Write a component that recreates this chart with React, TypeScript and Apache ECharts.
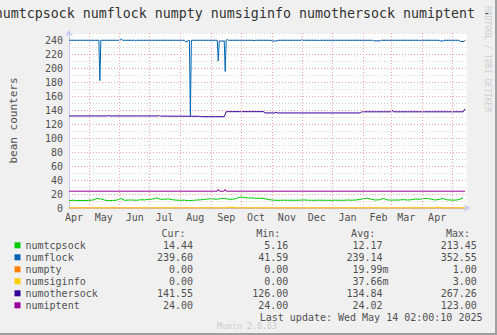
import React, { useEffect, useRef } from 'react';
import * as echarts from 'echarts';

const titleText = 'numtcpsock numflock numpty numsiginfo numothersock numiptent - by year';
const seriesNames = ['numtcpsock', 'numflock', 'numpty', 'numsiginfo', 'numothersock', 'numiptent'];
const seriesColors = ['#00CC00', '#0066B3', '#FF8000', '#FFCC00', '#330099', '#990099'];

const xStart = '2024-04-11';
const xEnd = '2025-05-16';
const monthStarts = [
  '2024-05-01', '2024-06-01', '2024-07-01', '2024-08-01', '2024-09-01', '2024-10-01', '2024-11-01',
  '2024-12-01', '2025-01-01', '2025-02-01', '2025-03-01', '2025-04-01', '2025-05-01',
];
const monthLabelDates = [
  '2024-04-16', '2024-05-16', '2024-06-16', '2024-07-16', '2024-08-16', '2024-09-16', '2024-10-16',
  '2024-11-16', '2024-12-16', '2025-01-16', '2025-02-16', '2025-03-16', '2025-04-16',
];
const monthLabels = ['Apr', 'May', 'Jun', 'Jul', 'Aug', 'Sep', 'Oct', 'Nov', 'Dec', 'Jan', 'Feb', 'Mar', 'Apr'];

const yMin = 0;
const yMax = 250;
const yStep = 10;
const yLabelStep = 20;
const yName = 'bean counters';

// numtcpsock sampled every 4 days starting at tcpStart
const tcpStart = '2024-04-11';
const tcpStepDays = 4;
const numtcpsock = [
  10.5, 11.2, 10.5, 10.8, 10.6, 11.0, 11.4, 13.5, 13.0, 11.2,
  10.5, 10.8, 11.2, 13.6, 11.0, 11.4, 11.4, 11.0, 11.8, 11.6,
  12.4, 12.6, 14.4, 12.4, 12.6, 12.9, 11.9, 11.2, 11.0, 11.2,
  10.5, 10.8, 11.4, 11.6, 12.4, 12.9, 13.2, 12.4, 13.3, 13.8,
  12.6, 12.4, 13.5, 15.6, 15.2, 14.3, 14.4, 13.9, 14.0, 13.6,
  12.2, 11.4, 11.0, 11.0, 11.2, 11.0, 11.1, 11.0, 11.2, 11.5,
  11.2, 11.0, 11.0, 11.2, 11.0, 11.0, 11.0, 11.2, 11.0, 11.0,
  11.4, 11.2, 11.4, 12.2, 13.2, 14.0, 12.4, 11.4, 11.8, 13.6,
  11.6, 11.2, 11.4, 11.4, 12.0, 11.4, 11.8, 12.8, 12.4, 13.4,
  13.8, 12.6, 11.4, 12.4, 13.5, 11.6, 11.4, 11.2, 12.0, 14.4,
];

const numflock: [string, number][] = [
  ['2024-04-11', 239.6], ['2024-05-11', 239.6], ['2024-05-12', 182], ['2024-05-13', 239.6],
  ['2024-05-31', 239.6], ['2024-06-02', 241.5], ['2024-06-04', 239.6], ['2024-06-16', 239.6],
  ['2024-06-17', 238.8], ['2024-06-18', 239.6], ['2024-08-05', 239.6], ['2024-08-06', 237.6],
  ['2024-08-08', 237.6], ['2024-08-09', 239.6], ['2024-08-10', 239.6], ['2024-08-11', 132],
  ['2024-08-12', 239.6], ['2024-09-07', 239.6], ['2024-09-08', 210], ['2024-09-09', 238.5],
  ['2024-09-13', 238.5], ['2024-09-14', 239], ['2024-09-15', 195], ['2024-09-16', 239.6],
  ['2024-09-17', 241], ['2024-09-18', 239.6], ['2024-10-13', 239.6], ['2024-10-14', 238.8],
  ['2024-10-15', 239.6], ['2024-10-31', 239.6], ['2024-11-01', 238.6], ['2024-11-06', 238.6],
  ['2024-11-07', 239.6], ['2024-11-30', 239.6], ['2024-12-01', 240.5], ['2024-12-02', 239.6],
  ['2024-12-18', 239.6], ['2024-12-19', 239], ['2024-12-20', 239.6], ['2025-02-10', 239.6],
  ['2025-02-11', 238.8], ['2025-02-18', 238.8], ['2025-02-19', 239.6], ['2025-03-29', 239.6],
  ['2025-03-30', 239], ['2025-03-31', 239.6], ['2025-04-18', 239.6], ['2025-04-19', 238.6],
  ['2025-04-22', 238.6], ['2025-04-23', 239.6], ['2025-05-08', 239.6], ['2025-05-09', 237.8],
  ['2025-05-13', 237.8], ['2025-05-14', 239.6],
];

const numpty: [string, number][] = [
  ['2024-04-11', 0], ['2025-05-14', 0],
];

const numsiginfo: [string, number][] = [
  ['2024-04-11', 0], ['2024-09-16', 0], ['2024-09-17', 1.1], ['2024-09-24', 1.1], ['2024-09-25', 0],
  ['2025-04-14', 0], ['2025-04-15', 1.1], ['2025-04-19', 1.1], ['2025-04-20', 0], ['2025-05-14', 0],
];

const numothersock: [string, number][] = [
  ['2024-04-11', 131.5], ['2024-05-20', 131.5], ['2024-05-21', 132.3], ['2024-05-22', 131.5],
  ['2024-07-10', 131.5], ['2024-07-11', 132.2], ['2024-07-12', 131.3], ['2024-08-20', 131],
  ['2024-08-22', 130.4], ['2024-09-14', 130.4], ['2024-09-16', 137.6], ['2024-10-24', 137.6],
  ['2024-10-25', 135.8], ['2024-11-04', 135.8], ['2024-11-05', 137.2], ['2024-11-06', 135.8],
  ['2025-01-29', 135.8], ['2025-01-30', 137.4], ['2025-03-01', 137.4], ['2025-03-02', 139.4],
  ['2025-03-03', 137.4], ['2025-05-12', 137.4], ['2025-05-14', 141.55],
];

const numiptent: [string, number][] = [
  ['2024-04-11', 24], ['2024-09-07', 24], ['2024-09-08', 26.6], ['2024-09-09', 24],
  ['2024-09-14', 24], ['2024-09-15', 26.6], ['2024-09-16', 24], ['2025-05-14', 24],
];

const statHeaders = ['Cur:', 'Min:', 'Avg:', 'Max:'];
const curValues = ['14.44', '239.60', '0.00', '0.00', '141.55', '24.00'];
const minValues = ['5.16', '41.59', '0.00', '0.00', '126.00', '24.00'];
const avgValues = ['12.17', '239.14', '19.99m', '37.66m', '134.84', '24.02'];
const maxValues = ['213.45', '352.55', '1.00', '3.00', '267.26', '123.00'];
const lastUpdate = 'Last update: Wed May 14 02:00:10 2025';
const muninVersion = 'Munin 2.0.63';
const rrdCredit = 'RRDTOOL / TOBI OETIKER';

const DAY = 86400000;
const toTime = (s: string) => new Date(s + 'T00:00:00').getTime();
const FONT = '"DejaVu Sans Mono", monospace';
const TEXT = '#505050';

export default function App() {
  const ref = useRef<HTMLDivElement>(null);
  useEffect(() => {
    if (!ref.current) return;
    const chart = echarts.init(ref.current, null, { renderer: 'svg' });
    const labelMap = new Map<number, string>();
    monthLabelDates.forEach((d, i) => labelMap.set(toTime(d), monthLabels[i]));
    const tcpData = numtcpsock.map((v, i) => [toTime(tcpStart) + i * tcpStepDays * DAY, v]);
    const pairs = (arr: [string, number][]) => arr.map(([d, v]) => [toTime(d), v]);
    const seriesData = [tcpData, pairs(numflock), pairs(numpty), pairs(numsiginfo), pairs(numothersock), pairs(numiptent)];

    const colHeaderRight = [185.5, 280.3, 375.2, 470];
    const colRight = [193, 288.3, 382.5, 476.8];
    const rowY0 = 245.3;
    const rowH = 12;
    const cols = [curValues, minValues, avgValues, maxValues];
    const graphics: any[] = [];
    graphics.push({
      type: 'text', x: -5.3, y: 13.5, silent: true,
      style: { text: titleText, fontFamily: FONT, fontSize: 13.3, fill: '#333', verticalAlign: 'middle', align: 'left' },
    });
    statHeaders.forEach((h, c) => {
      graphics.push({
        type: 'text', x: colHeaderRight[c], y: 233.8, silent: true,
        style: { text: h, fontFamily: FONT, fontSize: 10, fill: TEXT, align: 'right', verticalAlign: 'middle' },
      });
    });
    cols.forEach((col, c) => {
      col.forEach((v, r) => {
        const hasUnit = /[a-zA-Z]$/.test(v);
        graphics.push({
          type: 'text', x: colRight[c] + (hasUnit ? 6 : 0), y: rowY0 + r * rowH, silent: true,
          style: { text: v, fontFamily: FONT, fontSize: 10, fill: TEXT, align: 'right', verticalAlign: 'middle' },
        });
      });
    });
    graphics.push({
      type: 'text', x: 482.5, y: 317.3, silent: true,
      style: { text: lastUpdate, fontFamily: FONT, fontSize: 10, fill: TEXT, align: 'right', verticalAlign: 'middle' },
    });
    graphics.push({
      type: 'text', x: 247, y: 325.5, silent: true,
      style: { text: muninVersion, fontFamily: FONT, fontSize: 8.3, fill: '#cccccc', align: 'center', verticalAlign: 'middle' },
    });
    graphics.push({
      type: 'text', x: 487, y: 59, rotation: -Math.PI / 2, silent: true,
      style: { text: rrdCredit, fontFamily: FONT, fontSize: 8, fill: '#cfcfcf', align: 'center', verticalAlign: 'middle' },
    });
    graphics.push({ type: 'line', silent: true, shape: { x1: 0, y1: 334, x2: 497, y2: 334 }, style: { stroke: '#a0a0a0', lineWidth: 2 } });
    graphics.push({ type: 'line', silent: true, shape: { x1: 496, y1: 0, x2: 496, y2: 335 }, style: { stroke: '#a0a0a0', lineWidth: 2 } });

    const axisColor = '#c8c8f4';
    const option: any = {
      animation: false,
      backgroundColor: '#f0f0f0',
      grid: { left: 67, right: 30, top: 33, bottom: 127, show: true, backgroundColor: '#ffffff', borderWidth: 0 },
      legend: {
        data: seriesNames, orient: 'vertical', left: 14.5, top: 239.3, padding: 0, itemGap: 0,
        itemWidth: 6, itemHeight: 6, icon: 'rect', selectedMode: false,
        textStyle: { fontFamily: FONT, fontSize: 10, color: TEXT, lineHeight: 12 },
      },
      xAxis: {
        type: 'value', min: toTime(xStart), max: toTime(xEnd), scale: true,
        axisLine: { show: true, onZero: false, lineStyle: { color: axisColor }, symbol: ['none', 'arrow'], symbolSize: [6, 6], symbolOffset: [0, 3] },
        axisTick: { show: false },
        splitLine: { show: false },
        axisLabel: {
          customValues: monthLabelDates.map(toTime),
          formatter: (v: number) => labelMap.get(v) ?? '',
          color: TEXT, fontFamily: FONT, fontSize: 10, margin: 4, hideOverlap: false,
        },
      },
      yAxis: {
        type: 'value', min: yMin, max: yMax, interval: yStep,
        name: yName, nameLocation: 'middle', nameGap: 50,
        nameTextStyle: { fontFamily: FONT, fontSize: 11, color: TEXT },
        axisLine: { show: true, lineStyle: { color: axisColor }, symbol: ['none', 'arrow'], symbolSize: [6, 6], symbolOffset: [0, 3] },
        axisTick: { show: false },
        axisLabel: {
          formatter: (v: number) => (v % yLabelStep === 0 && v <= yMax - yStep ? String(v) : ''),
          color: TEXT, fontFamily: FONT, fontSize: 10, margin: 6,
        },
        splitLine: { show: true, lineStyle: { color: ['#f2a8a8', '#d6d6d6'], type: [1, 2], width: 1 } },
      },
      graphic: graphics,
      series: [
        {
          type: 'line', data: [], z: 1, silent: true,
          markLine: {
            silent: true, symbol: ['none', 'none'], label: { show: false },
            lineStyle: { color: '#f2a8a8', type: [1, 2], width: 1 },
            emphasis: { disabled: true },
            data: monthStarts.map((d) => ({ xAxis: toTime(d) })),
          },
        },
        ...seriesNames.map((n, i) => ({
          name: n, type: 'line', data: seriesData[i], showSymbol: false, symbol: 'none', z: 2,
          lineStyle: { width: 1, color: seriesColors[i] }, itemStyle: { color: seriesColors[i] },
          emphasis: { disabled: true }, silent: true,
        })),
      ],
    };
    chart.setOption(option);
    return () => chart.dispose();
  }, []);
  return <div ref={ref} style={{ position: 'absolute', left: 0, top: 0, width: 497, height: 335 }} />;
}
